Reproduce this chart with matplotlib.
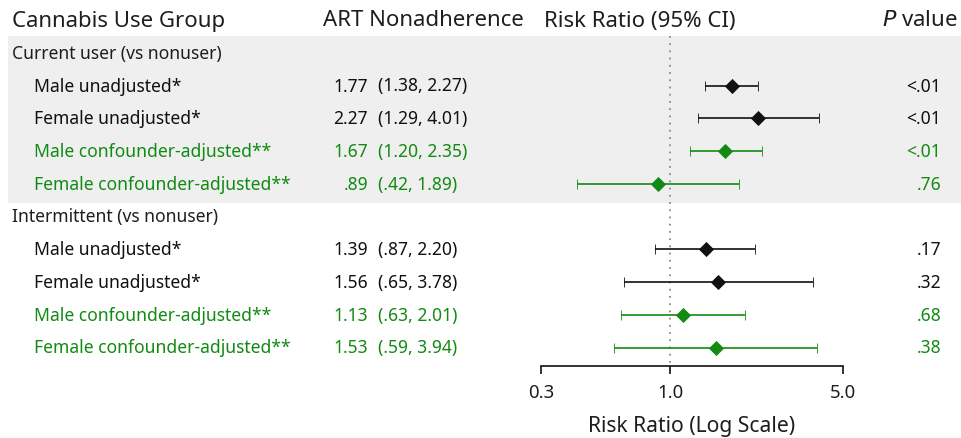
import math
import matplotlib
matplotlib.use("Agg")
import matplotlib.pyplot as plt
import matplotlib.transforms as mtransforms

plt.rcParams['font.family'] = ['Noto Sans', 'DejaVu Sans']

# ---------------- data ----------------
group_names = ["Current user (vs nonuser)", "Intermittent (vs nonuser)"]
row_labels = ["Male unadjusted*", "Female unadjusted*",
              "Male confounder-adjusted**", "Female confounder-adjusted**"]
row_adjusted = [False, False, True, True]

current_rr = [1.77, 2.27, 1.67, 0.89]
current_lo = [1.38, 1.29, 1.20, 0.42]
current_hi = [2.27, 4.01, 2.35, 1.89]
current_p = ["<.01", "<.01", "<.01", ".76"]

intermittent_rr = [1.39, 1.56, 1.13, 1.53]
intermittent_lo = [0.87, 0.65, 0.63, 0.59]
intermittent_hi = [2.20, 3.78, 2.01, 3.94]
intermittent_p = [".17", ".32", ".68", ".38"]

x_ticks = [0.3, 1.0, 5.0]
x_tick_labels = ["0.3", "1.0", "5.0"]

# ---------------- layout ----------------
W, H = 961, 439
fig = plt.figure(figsize=(W / 100, H / 100), dpi=100)
ax = fig.add_axes([0, 0, 1, 1])
ax.set_xscale('log')

# pixel calibration of the log axis: 0.3 -> 541 px, 5.0 -> 843 px
px03, px5 = 541.0, 843.0
per_dec = (px5 - px03) / (math.log10(5.0) - math.log10(0.3))
xmin = 10 ** (math.log10(0.3) - px03 / per_dec)
xmax = 10 ** (math.log10(5.0) + (W - px5) / per_dec)
ax.set_xlim(xmin, xmax)

y0, dy = 21.0, 32.75  # px of row 0 and row spacing
ax.set_ylim((H - y0) / dy, -y0 / dy)

def fx(px):
    return px / W

def fy(py):
    return (py - y0) / dy

bt = mtransforms.blended_transform_factory(ax.transAxes, ax.transData)

BLACK = '#111111'
TXT = '#1e1e1e'
GREEN = '#138a13'
fs_head = 16.0
fs_row = 12.6
fs_axis = 15.2
fs_tick = 13.4

# shaded band for current users
ax.fill_between([fx(8), 1.0], fy(37), fy(204), transform=bt, color='#efefef',
                lw=0, zorder=0)

# reference line at 1
axis_y = fy(367)
ax.plot([1.0, 1.0], [fy(37), axis_y], color='#8a8a8a', lw=1.3,
        linestyle=(0, (1, 3)), zorder=1)

# headers
ax.text(fx(12), 0, "Cannabis Use Group", transform=bt, ha='left', va='center',
        fontsize=fs_head, color=TXT)
ax.text(fx(323), 0, "ART Nonadherence", transform=bt, ha='left', va='center',
        fontsize=fs_head, color=TXT)
ax.text(fx(544), 0, "Risk Ratio (95% CI)", transform=bt, ha='left', va='center',
        fontsize=fs_head, color=TXT)
ax.text(fx(958), 0, r"$\mathit{P}$ value", transform=bt, ha='right', va='center',
        fontsize=fs_head, color=TXT)

def fmt(v):
    s = f"{v:.2f}"
    return s[1:] if s.startswith("0") else s

blocks = [
    (1, group_names[0], current_rr, current_lo, current_hi, current_p),
    (6, group_names[1], intermittent_rr, intermittent_lo, intermittent_hi, intermittent_p),
]
for start, gname, rr, lo, hi, pv in blocks:
    ax.text(fx(12), start, gname, transform=bt, ha='left', va='center',
            fontsize=fs_row, color=TXT)
    for i in range(len(rr)):
        y = start + 1 + i
        col = GREEN if row_adjusted[i] else BLACK
        ax.text(fx(34), y, row_labels[i], transform=bt, ha='left', va='center',
                fontsize=fs_row, color=col)
        ax.text(fx(368), y, fmt(rr[i]), transform=bt, ha='right', va='center',
                fontsize=fs_row, color=col)
        ax.text(fx(378), y, f"({fmt(lo[i])}, {fmt(hi[i])})", transform=bt,
                ha='left', va='center', fontsize=fs_row, color=col)
        ax.text(fx(941), y, pv[i], transform=bt, ha='right', va='center',
                fontsize=fs_row, color=col)
        ax.errorbar([rr[i]], [y], xerr=[[rr[i] - lo[i]], [hi[i] - rr[i]]],
                    fmt='D', color=col, ecolor=col, elinewidth=1.2,
                    capsize=3.6, capthick=1.2, markersize=7.2,
                    markeredgewidth=0.6, zorder=3)

# x axis
for s in ['top', 'left', 'right']:
    ax.spines[s].set_visible(False)
ax.spines['bottom'].set_position(('data', axis_y))
ax.spines['bottom'].set_bounds(0.3, 5.0)
ax.spines['bottom'].set_linewidth(1.2)
ax.spines['bottom'].set_color(BLACK)
ax.set_xticks(x_ticks)
ax.set_xticklabels(x_tick_labels)
ax.xaxis.set_minor_locator(matplotlib.ticker.NullLocator())
ax.tick_params(axis='x', direction='out', length=6, width=1.2, color=BLACK,
               labelsize=fs_tick, labelcolor=TXT, pad=6.5)
ax.set_yticks([])
ax.patch.set_visible(False)

ax.text(fx((px03 + px5) / 2), fy(427), "Risk Ratio (Log Scale)",
        transform=bt, ha='center', va='center', fontsize=fs_axis, color=TXT)

fig.savefig("out.png", dpi=100)
